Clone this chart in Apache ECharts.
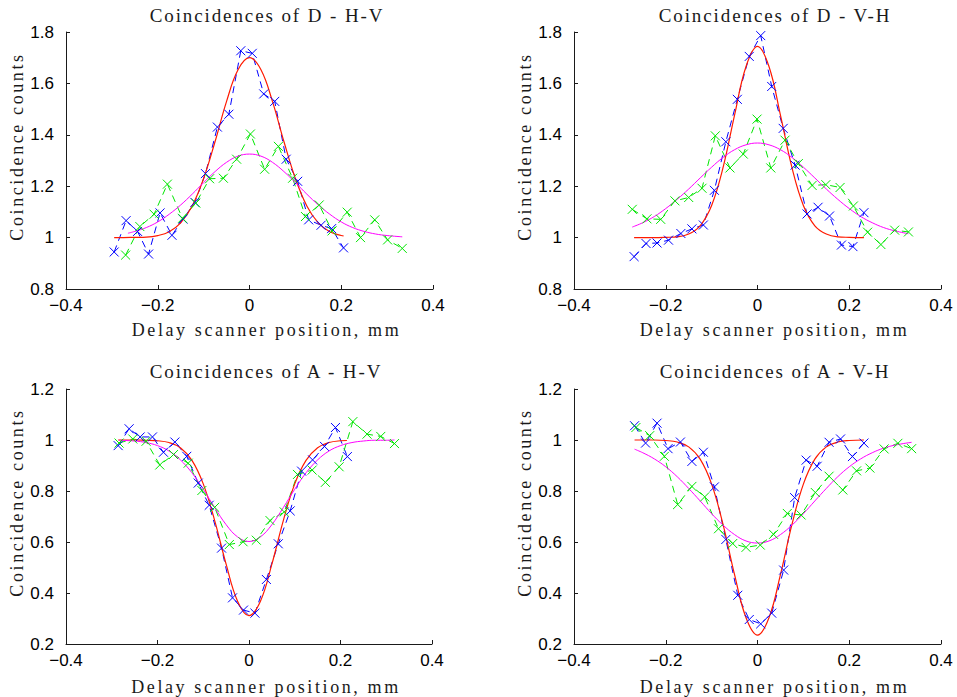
<!DOCTYPE html>
<html><head><meta charset="utf-8">
<script src="https://cdn.jsdelivr.net/npm/echarts@6/dist/echarts.min.js"></script>
<style>html,body{margin:0;padding:0;background:#fff}#c{width:957px;height:697px}</style>
</head><body><div id="c"></div>
<script>
// ---------- text ----------
const titles = ['Coincidences of D - H-V', 'Coincidences of D - V-H', 'Coincidences of A - H-V', 'Coincidences of A - V-H'];
const xAxisName = 'Delay scanner position, mm';
const yAxisName = 'Coincidence counts';
// ---------- axis ranges / ticks ----------
const xRange = [-0.4, 0.4];
const xStep = 0.2;
const yRangeTop = [0.8, 1.8];
const yRangeBottom = [0.2, 1.2];
const yStep = 0.2;

// ---------- Panel 1: D - H-V ----------
const p1BlueX = [-0.295,-0.269,-0.244,-0.220,-0.195,-0.169,-0.145,-0.119,-0.096,-0.070,-0.045,-0.019,0.006,0.031,0.055,0.080,0.105,0.129,0.156,0.179,0.205];
const p1BlueY = [0.944,1.066,1.024,0.936,1.096,1.009,1.072,1.137,1.249,1.430,1.480,1.727,1.717,1.559,1.530,1.305,1.219,1.069,1.048,1.035,0.960];
const p1GreenX = [-0.270,-0.239,-0.208,-0.179,-0.146,-0.117,-0.087,-0.057,-0.028,0.002,0.033,0.063,0.094,0.122,0.152,0.180,0.213,0.242,0.273,0.301,0.333];
const p1GreenY = [0.932,1.043,1.091,1.208,1.075,1.134,1.229,1.231,1.305,1.403,1.266,1.355,1.231,1.082,1.127,1.026,1.099,1.000,1.069,0.991,0.958];
const p1RedX = [-0.295,-0.275,-0.25,-0.225,-0.2,-0.175,-0.15,-0.125,-0.1,-0.075,-0.05,-0.025,0,0.025,0.05,0.075,0.1,0.125,0.15,0.175,0.2,0.205];
const p1RedY = [1.000,1.000,1.001,1.002,1.008,1.023,1.057,1.123,1.230,1.374,1.530,1.653,1.700,1.653,1.530,1.374,1.230,1.123,1.057,1.023,1.008,1.007];
const p1MagX = [-0.265,-0.25,-0.225,-0.2,-0.175,-0.15,-0.125,-0.1,-0.075,-0.05,-0.025,0,0.025,0.05,0.075,0.1,0.125,0.15,0.175,0.2,0.225,0.25,0.275,0.3,0.333];
const p1MagY = [1.017,1.024,1.039,1.061,1.091,1.127,1.169,1.214,1.257,1.293,1.317,1.325,1.317,1.293,1.257,1.214,1.169,1.127,1.091,1.061,1.039,1.024,1.014,1.008,1.003];

// ---------- Panel 2: D - V-H ----------
const p2BlueX = [-0.269,-0.243,-0.219,-0.194,-0.167,-0.143,-0.118,-0.094,-0.069,-0.044,-0.018,0.007,0.031,0.056,0.082,0.108,0.132,0.157,0.183,0.208,0.232];
const p2BlueY = [0.926,0.977,0.979,0.990,1.016,1.034,1.049,1.184,1.373,1.538,1.705,1.786,1.588,1.425,1.282,1.092,1.118,1.084,0.971,0.965,1.097];
const p2GreenX = [-0.273,-0.241,-0.211,-0.180,-0.150,-0.121,-0.092,-0.060,-0.031,-0.001,0.029,0.060,0.089,0.119,0.149,0.180,0.209,0.240,0.269,0.299,0.329];
const p2GreenY = [1.110,1.073,1.071,1.143,1.156,1.192,1.396,1.271,1.325,1.461,1.271,1.379,1.288,1.203,1.206,1.195,1.123,1.021,0.973,1.029,1.022];
const p2RedX = [-0.269,-0.25,-0.225,-0.2,-0.175,-0.15,-0.125,-0.1,-0.075,-0.05,-0.025,0,0.025,0.05,0.075,0.1,0.125,0.15,0.175,0.2,0.232];
const p2RedY = [1.000,1.000,1.000,1.001,1.003,1.014,1.046,1.125,1.273,1.477,1.666,1.744,1.666,1.477,1.273,1.125,1.046,1.014,1.003,1.001,1.000];
const p2MagX = [-0.273,-0.25,-0.225,-0.2,-0.175,-0.15,-0.125,-0.1,-0.075,-0.05,-0.025,0,0.025,0.05,0.075,0.1,0.125,0.15,0.175,0.2,0.225,0.25,0.275,0.3,0.329];
const p2MagY = [1.041,1.058,1.082,1.113,1.149,1.189,1.232,1.274,1.312,1.342,1.361,1.368,1.361,1.342,1.312,1.274,1.232,1.189,1.149,1.113,1.082,1.058,1.039,1.026,1.015];

// ---------- Panel 3: A - H-V ----------
const p3BlueX = [-0.286,-0.262,-0.238,-0.211,-0.187,-0.162,-0.136,-0.111,-0.087,-0.060,-0.036,-0.012,0.013,0.038,0.064,0.090,0.115,0.139,0.165,0.189,0.215];
const p3BlueY = [0.978,1.044,1.012,1.012,0.952,0.992,0.936,0.831,0.744,0.576,0.381,0.333,0.321,0.453,0.593,0.722,0.878,0.922,0.975,1.049,0.935];
const p3GreenX = [-0.284,-0.254,-0.225,-0.195,-0.165,-0.133,-0.103,-0.075,-0.043,-0.013,0.016,0.046,0.077,0.106,0.138,0.167,0.197,0.227,0.258,0.288,0.318];
const p3GreenY = [0.988,1.004,0.995,0.902,0.943,0.909,0.802,0.736,0.590,0.601,0.607,0.684,0.718,0.865,0.882,0.834,0.895,1.072,1.023,1.014,0.986];
const p3RedX = [-0.286,-0.25,-0.225,-0.2,-0.175,-0.15,-0.125,-0.1,-0.075,-0.05,-0.025,0,0.025,0.05,0.075,0.1,0.125,0.15,0.175,0.2,0.214];
const p3RedY = [1.000,1.000,0.999,0.997,0.990,0.970,0.921,0.828,0.684,0.513,0.368,0.311,0.368,0.513,0.684,0.828,0.921,0.970,0.990,0.997,0.998];
const p3MagX = [-0.284,-0.25,-0.225,-0.2,-0.175,-0.15,-0.125,-0.1,-0.075,-0.05,-0.025,0,0.025,0.05,0.075,0.1,0.125,0.15,0.175,0.2,0.225,0.25,0.275,0.3,0.318];
const p3MagY = [0.999,0.996,0.990,0.978,0.957,0.922,0.872,0.807,0.735,0.668,0.620,0.602,0.620,0.668,0.735,0.807,0.872,0.922,0.957,0.978,0.990,0.996,0.999,0.999,1.000];

// ---------- Panel 4: A - V-H ----------
const p4BlueX = [-0.268,-0.244,-0.219,-0.195,-0.168,-0.143,-0.118,-0.094,-0.069,-0.043,-0.018,0.007,0.031,0.057,0.081,0.106,0.130,0.156,0.181,0.207,0.232];
const p4BlueY = [1.056,0.988,1.066,0.966,0.992,0.916,0.952,0.816,0.610,0.391,0.296,0.279,0.321,0.490,0.774,0.921,0.897,0.991,1.004,0.935,0.988];
const p4GreenX = [-0.265,-0.235,-0.203,-0.174,-0.143,-0.115,-0.085,-0.054,-0.025,0.006,0.035,0.065,0.095,0.126,0.156,0.186,0.216,0.245,0.276,0.306,0.336];
const p4GreenY = [1.049,1.017,0.936,0.747,0.818,0.777,0.652,0.594,0.579,0.588,0.630,0.712,0.706,0.794,0.858,0.804,0.879,0.890,0.965,0.987,0.966];
const p4RedX = [-0.268,-0.25,-0.225,-0.2,-0.175,-0.15,-0.125,-0.1,-0.075,-0.05,-0.025,0,0.025,0.05,0.075,0.1,0.125,0.15,0.175,0.2,0.232];
const p4RedY = [1.000,1.000,1.000,0.998,0.992,0.973,0.925,0.827,0.668,0.472,0.303,0.235,0.303,0.472,0.668,0.827,0.925,0.973,0.992,0.998,1.000];
const p4MagX = [-0.268,-0.25,-0.225,-0.2,-0.175,-0.15,-0.125,-0.1,-0.075,-0.05,-0.025,0,0.025,0.05,0.075,0.1,0.125,0.15,0.175,0.2,0.225,0.25,0.275,0.3,0.336];
const p4MagY = [0.964,0.950,0.926,0.895,0.856,0.810,0.761,0.711,0.666,0.629,0.604,0.596,0.604,0.629,0.666,0.711,0.761,0.810,0.856,0.895,0.926,0.950,0.968,0.980,0.991];

// ---------- build ----------
const panels = [
  {blue:[p1BlueX,p1BlueY], green:[p1GreenX,p1GreenY], red:[p1RedX,p1RedY], mag:[p1MagX,p1MagY], yr:yRangeTop},
  {blue:[p2BlueX,p2BlueY], green:[p2GreenX,p2GreenY], red:[p2RedX,p2RedY], mag:[p2MagX,p2MagY], yr:yRangeTop},
  {blue:[p3BlueX,p3BlueY], green:[p3GreenX,p3GreenY], red:[p3RedX,p3RedY], mag:[p3MagX,p3MagY], yr:yRangeBottom},
  {blue:[p4BlueX,p4BlueY], green:[p4GreenX,p4GreenY], red:[p4RedX,p4RedY], mag:[p4MagX,p4MagY], yr:yRangeBottom}
];
const zip = (xs, ys) => xs.map((x, i) => [x, ys[i]]);

const gridPos = [
  {left:66, top:32, width:367, height:257},
  {left:574, top:32, width:367, height:257},
  {left:66, top:389, width:366, height:257},
  {left:574, top:389, width:367, height:257}
];
const titlePos = [{x:267, y:6}, {x:775, y:6}, {x:266, y:362}, {x:775, y:362}];

const AXIS_COLOR = '#1a1a1a';
const SANS = '"Liberation Sans", Arial, Helvetica, sans-serif';
const SERIF = '"Liberation Serif", "Times New Roman", serif';
const BLUE = '#0000ff', GREEN = '#00e600', RED = '#ff1a00', MAG = '#ff00ff';
const CROSS = 'path://M0,0L10,10M10,0L0,10';
const fmt = v => String(Math.round(v * 10) / 10).replace('-', '\u2212');

const option = {
  animation: false,
  backgroundColor: '#ffffff',
  title: titles.map((t, i) => ({
    text: t, left: titlePos[i].x, top: titlePos[i].y, textAlign: 'center', padding: 0,
    textStyle: {fontFamily: SERIF, fontSize: 19, fontWeight: 'normal', color: '#1a1a1a'}
  })),
  grid: gridPos,
  xAxis: gridPos.map((g, i) => ({
    type: 'value', gridIndex: i, min: xRange[0], max: xRange[1], interval: xStep,
    name: xAxisName, nameLocation: 'middle', nameGap: i < 2 ? 32 : 34,
    nameTextStyle: {fontFamily: SERIF, fontSize: 18, color: '#1a1a1a', padding: [0, 0, 0, 34]},
    axisLine: {show: true, onZero: false, lineStyle: {color: AXIS_COLOR, width: 1}},
    axisTick: {show: true, inside: true, length: 4, lineStyle: {color: AXIS_COLOR}},
    splitLine: {show: false},
    axisLabel: {fontFamily: SANS, fontSize: 17, color: '#000', margin: 8, formatter: fmt}
  })),
  yAxis: gridPos.map((g, i) => ({
    type: 'value', gridIndex: i, min: panels[i].yr[0], max: panels[i].yr[1], interval: yStep,
    name: yAxisName, nameLocation: 'middle', nameGap: 36,
    nameTextStyle: {fontFamily: SERIF, fontSize: 18, color: '#1a1a1a', padding: [0, 0, 0, 28]},
    axisLine: {show: true, onZero: false, lineStyle: {color: AXIS_COLOR, width: 1}},
    axisTick: {show: true, inside: true, length: 4, lineStyle: {color: AXIS_COLOR}},
    splitLine: {show: false},
    axisLabel: {fontFamily: SANS, fontSize: 17, color: '#000', margin: 12, formatter: fmt}
  })),
  series: []
};

panels.forEach((p, i) => {
  const dataSeries = (xy, color) => ({
    type: 'line', xAxisIndex: i, yAxisIndex: i, data: zip(xy[0], xy[1]),
    symbol: CROSS, symbolSize: 9, showAllSymbol: true, silent: true,
    itemStyle: {color: 'rgba(0,0,0,0)', borderColor: color, borderWidth: 1},
    lineStyle: {color: color, width: 1, type: [7, 5]}
  });
  const fitSeries = (xy, color, w) => ({
    type: 'line', xAxisIndex: i, yAxisIndex: i, data: zip(xy[0], xy[1]),
    symbol: 'none', smooth: 0.4, silent: true,
    lineStyle: {color: color, width: w, type: 'solid'}
  });
  option.series.push(dataSeries(p.blue, BLUE));
  option.series.push(dataSeries(p.green, GREEN));
  option.series.push(fitSeries(p.red, RED, 1.2));
  option.series.push(fitSeries(p.mag, MAG, 1));
});

const chart = echarts.init(document.getElementById('c'), null, {renderer: 'svg'});
chart.setOption(option);

// letter-spaced serif labels, as in the reference
const spacing = {};
titles.forEach(t => spacing[t] = 1.9);
spacing[xAxisName] = 2.6;
spacing[yAxisName] = 2.6;
function applySpacing() {
  document.querySelectorAll('#c svg text').forEach(el => {
    const s = spacing[el.textContent];
    if (s !== undefined) el.setAttribute('letter-spacing', s + 'px');
  });
}
chart.on('rendered', applySpacing);
chart.on('finished', applySpacing);
applySpacing();
setTimeout(applySpacing, 30);
setTimeout(applySpacing, 200);
</script>
</body></html>
